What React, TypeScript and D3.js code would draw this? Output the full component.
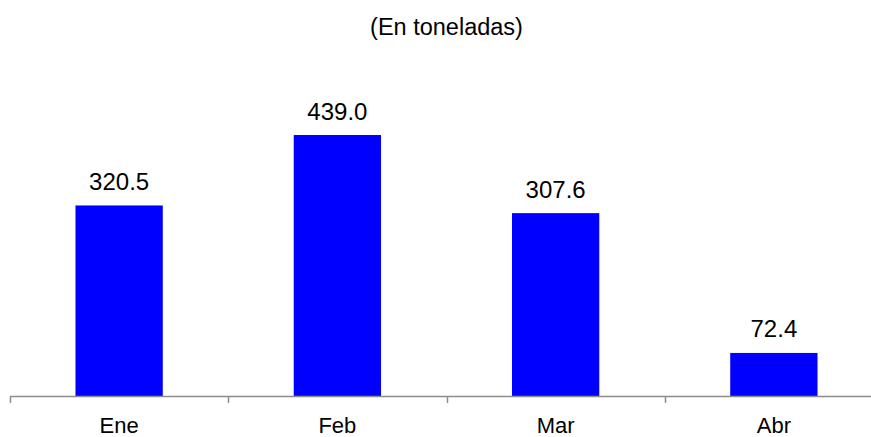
import React from "react";
import * as d3 from "d3";

const categories = ["Ene", "Feb", "Mar", "Abr"];
const values = [320.5, 439.0, 307.6, 72.4];
const title = "(En toneladas)";

const W = 871;
const H = 437;
const left = 10;
const right = 883;
const baseline = 396;

export default function App() {
  const x = d3.scaleBand<string>().domain(categories).range([left, right]).paddingInner(0.6).paddingOuter(0.3);
  const y = d3.scaleLinear().domain([0, 500]).range([baseline, baseline - 500 * 0.5945]);
  const step = x.step();
  const ticks = d3.range(categories.length + 1).map((i) => left + i * step);
  const font = "Liberation Sans, Arial, sans-serif";
  return (
    <svg width={W} height={H} style={{ position: "absolute", left: 0, top: 0, background: "#fff" }} fontFamily={font}>
      <text x={(left + right) / 2} y={35} textAnchor="middle" fontSize={23.5} fill="#000">{title}</text>
      {categories.map((c, i) => (
        <g key={c}>
          <rect x={x(c)} y={y(values[i])} width={x.bandwidth()} height={baseline - y(values[i])} fill="#0000ff" />
          <text x={(x(c) as number) + x.bandwidth() / 2} y={y(values[i]) - 15.5} textAnchor="middle" fontSize={24} fill="#000">
            {values[i].toFixed(1)}
          </text>
          <text x={(x(c) as number) + x.bandwidth() / 2} y={432.5} textAnchor="middle" fontSize={22} fill="#000">{c}</text>
        </g>
      ))}
      <line x1={left} x2={W} y1={baseline + 0.5} y2={baseline + 0.5} stroke="#8c8c8c" strokeWidth={1.5} />
      {ticks.map((t, i) => (
        <line key={i} x1={Math.round(t) + 0.5} x2={Math.round(t) + 0.5} y1={baseline} y2={baseline + 7} stroke="#8c8c8c" strokeWidth={1.5} />
      ))}
    </svg>
  );
}
